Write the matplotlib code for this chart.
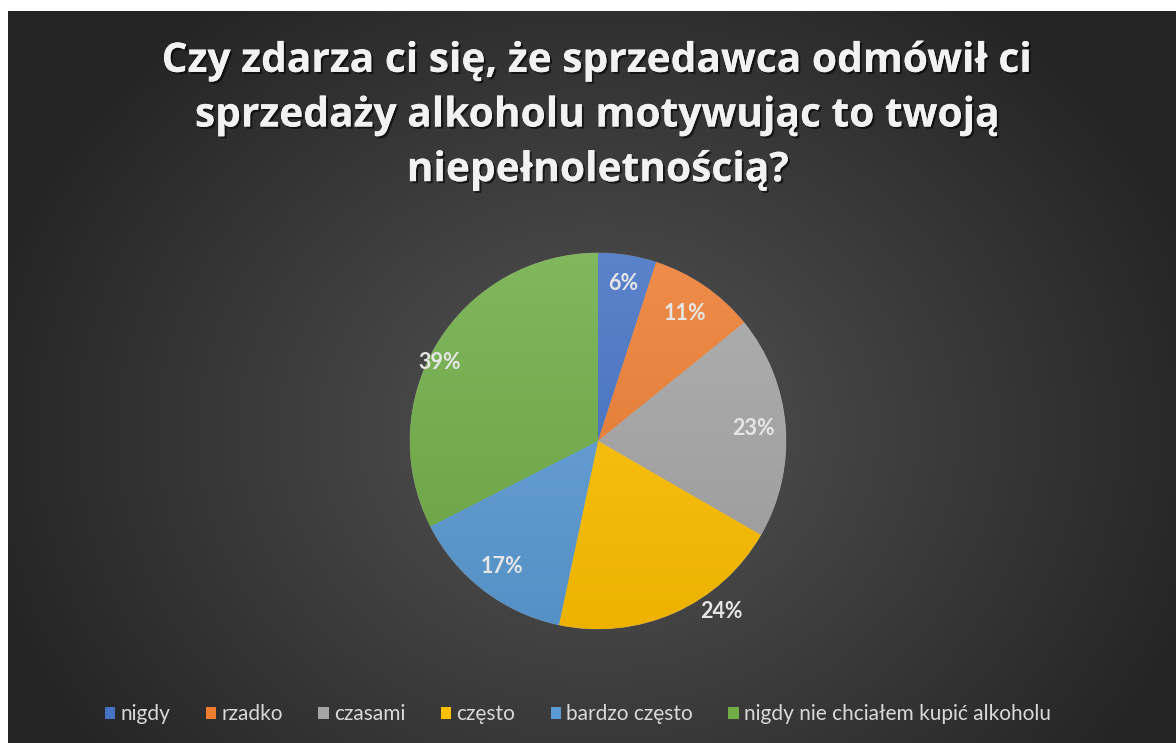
import numpy as np
import matplotlib
matplotlib.use("Agg")
import matplotlib.pyplot as plt
from matplotlib import patheffects as pe
from matplotlib.colors import to_rgb
from matplotlib.patches import Patch

categories = ["nigdy", "rzadko", "czasami", "często", "bardzo często",
              "nigdy nie chciałem kupić alkoholu"]
values = [6, 11, 23, 24, 17, 39]
label_texts = ["6%", "11%", "23%", "24%", "17%", "39%"]
colors = ["#4472C4", "#ED7D31", "#A5A5A5", "#FFC000", "#5B9BD5", "#70AD47"]
title = ("Czy zdarza ci się, że sprzedawca odmówił ci\n"
         "sprzedaży alkoholu motywując to twoją\n"
         "niepełnoletnością?")

# label placement styles (radial factor, angle shift in degrees)
label_r = [0.85, 0.82, 0.83, 1.12, 0.84, 0.94]
label_shift = [0, 0, 0, 12, 0, 5]

W, H = 1176, 743
fig = plt.figure(figsize=(W / 100, H / 100), dpi=100)
fig.patch.set_facecolor("white")

# background with radial gradient
bg = fig.add_axes([8 / W, 0, 1 - 8 / W, 1 - 11 / H])
bg.set_axis_off()
nh, nw = 732, 1168
yy, xx = np.mgrid[0:nh, 0:nw]
cx, cy = 590, 420
d = np.sqrt(((xx - cx) / (nw * 0.55)) ** 2 + ((yy - cy) / (nh * 0.75)) ** 2)
g = (84 - 48 * np.clip(d, 0, 1)) / 255.0
img = np.dstack([g, g, g])
bg.imshow(img, extent=[0, 1, 0, 1], aspect="auto", origin="upper")
bg.set_xlim(0, 1)
bg.set_ylim(0, 1)

# pie
R = 188
ax = fig.add_axes([(598 - R) / W, (H - 441 - R) / H, 2 * R / W, 2 * R / H])
wedges, _ = ax.pie(values, colors=colors, startangle=90, counterclock=False,
                   radius=1, wedgeprops=dict(linewidth=0.6, edgecolor=(1, 1, 1, 0.25)))

# gradient overlay per wedge
ys = np.linspace(1, -1, 200)[:, None]
for w, c in zip(wedges, colors):
    base = np.array(to_rgb(c))
    top = base + (1 - base) * 0.12
    bot = base * 0.93
    t = (1 - ys) / 2
    grad = top[None, None, :] * (1 - t[..., None]) + bot[None, None, :] * t[..., None]
    grad = np.repeat(grad, 2, axis=1)
    im = ax.imshow(grad, extent=[-1, 1, -1, 1], aspect="auto", zorder=w.get_zorder() + 0.1)
    im.set_clip_path(w)
ax.set_xlim(-1, 1)
ax.set_ylim(-1, 1)
ax.set_axis_off()

for w, txt, rf, sh in zip(wedges, label_texts, label_r, label_shift):
    ang = np.deg2rad((w.theta1 + w.theta2) / 2 + sh)
    ax.text(rf * np.cos(ang), rf * np.sin(ang), txt, ha="center", va="center",
            fontsize=15.5, fontweight="bold", color="#e6e6e6", family="Lato",
            zorder=10, clip_on=False)

# title
t = fig.text(598 / W, 1 - 116 / H, title, ha="center", va="center",
             fontsize=29.3, fontweight="bold", color="#f2f2f2", family="Open Sans",
             linespacing=1.44)
t.set_path_effects([pe.withSimplePatchShadow(offset=(1.5, -1.5), shadow_rgbFace="black", alpha=0.6),
                    pe.Normal()])

# legend
handles = [Patch(facecolor=c, edgecolor="none") for c in colors]
fig.legend(handles, categories, loc="center", bbox_to_anchor=(578 / W, 1 - 714 / H),
           ncol=6, frameon=False, handlelength=0.5, handleheight=0.5,
           handletextpad=0.25, columnspacing=1.7, labelcolor="#d9d9d9",
           prop=dict(family="Lato", size=15))

fig.savefig("out.png", dpi=100, facecolor=fig.get_facecolor())
